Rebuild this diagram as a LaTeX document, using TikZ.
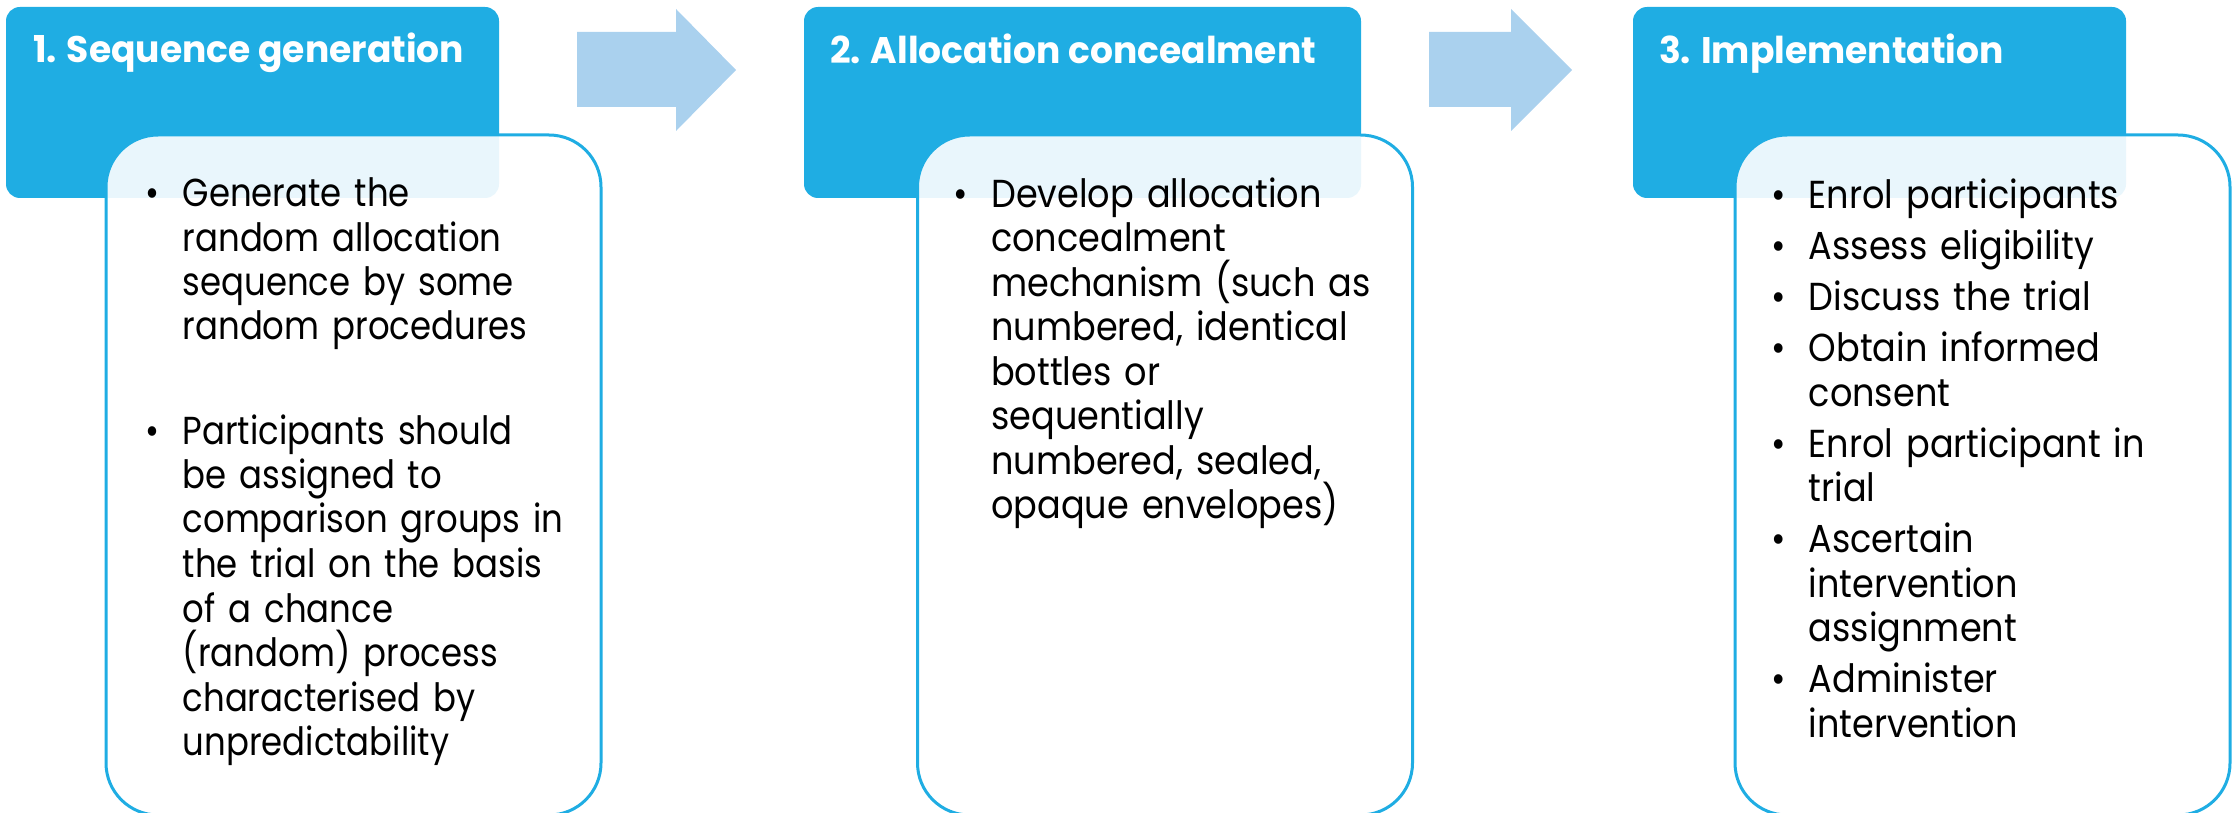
\documentclass[tikz,border=0pt]{standalone}
\usepackage{fontspec}
\setmainfont[FakeStretch=0.9]{Poppins}
\newfontfamily\narrowfont[FakeStretch=0.87]{Poppins}
\newfontfamily\headfont[FakeStretch=0.975]{Poppins}
\usetikzlibrary{calc}

\definecolor{stepblue}{RGB}{31,173,227}
\definecolor{arrowblue}{RGB}{170,209,238}

\tikzset{
  headbox/.style={rectangle, rounded corners=14pt, fill=stepblue,
    minimum height=191pt, inner sep=0pt},
  bodybox/.style={rectangle, rounded corners=52pt, draw=stepblue, line width=3pt,
    fill=white, fill opacity=0.9, minimum width=495pt, minimum height=680pt, inner sep=0pt},
  headtext/.style={anchor=base west, inner sep=0pt, text=white,
    font=\headfont\bfseries\fontsize{37}{40}\selectfont},
  bodytext/.style={anchor=base west, inner sep=0pt, text width=450pt,
    font=\fontsize{39}{44.5}\selectfont},
  flow/.style={fill=arrowblue}
}

\newcommand{\bitem}[1]{\noindent\hangindent=30pt\hangafter=1
  \makebox[30pt][l]{\makebox[0pt]{\textbullet}}#1\par}

\begin{document}
\begin{tikzpicture}[x=1pt,y=-1pt]
\useasboundingbox (0,0) rectangle (2237,813);

% step headers
\node[headbox, minimum width=493pt] (h1) at (252.5,102.5) {};
\node[headbox, minimum width=557pt] (h2) at (1082.5,102.5) {};
\node[headbox, minimum width=493pt] (h3) at (1879.5,102.5) {};

% block arrows
\fill[flow] (577,32) -- (676,32) -- (676,9) -- (736,70) -- (676,131) -- (676,107) -- (577,107) -- cycle;
\fill[flow] (1429,32) -- (1511,32) -- (1511,9) -- (1572,70) -- (1511,131) -- (1511,107) -- (1429,107) -- cycle;

% detail panels
\node[bodybox] (b1) at (353.5,475) {};
\node[bodybox] (b2) at (1165,475) {};
\node[bodybox] (b3) at (1982.5,475) {};

\node[headtext] (t1) at ($(h1.north west)+(27,56)$) {1. Sequence generation};
\node[headtext] (t2) at ($(h2.north west)+(26,57)$) {2. Allocation concealment};
\node[headtext] (t3) at ($(h3.north west)+(26,57)$) {3. Implementation};

\node[bodytext, font=\narrowfont\fontsize{39}{44.5}\selectfont] (l1) at ($(b1.north west)+(48,73)$) {%
  \bitem{Generate the\newline random allocation\newline sequence by some\newline random procedures}
  \vspace{59.5pt}
  \bitem{Participants should\newline be assigned to\newline comparison groups in\newline the trial on the basis\newline of a chance\newline (random) process\newline characterised by\newline unpredictability}};
\node[bodytext] (l2) at ($(b2.north west)+(45,74)$) {%
  \bitem{Develop allocation\newline concealment\newline mechanism (such as\newline numbered, identical\newline bottles or\newline sequentially\newline numbered, sealed,\newline opaque envelopes)}};
\node[bodytext] (l3) at ($(b3.north west)+(45,75)$) {%
  \bitem{Enrol participants}\vspace{6.5pt}
  \bitem{Assess eligibility}\vspace{6.5pt}
  \bitem{Discuss the trial}\vspace{6.5pt}
  \bitem{Obtain informed\newline consent}\vspace{6.5pt}
  \bitem{Enrol participant in\newline trial}\vspace{6.5pt}
  \bitem{Ascertain\newline intervention\newline assignment}\vspace{6.5pt}
  \bitem{Administer\newline intervention}};
\end{tikzpicture}
\end{document}
